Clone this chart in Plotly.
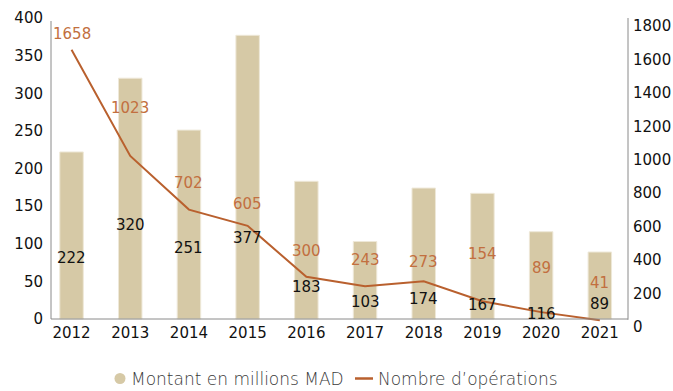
import plotly.graph_objects as go

# Annual series: amounts (bars, left axis) and number of deals (line, right axis)
years = ["2012", "2013", "2014", "2015", "2016", "2017", "2018", "2019", "2020", "2021"]
montant = [222, 320, 251, 377, 183, 103, 174, 167, 116, 89]
operations = [1658, 1023, 702, 605, 300, 243, 273, 154, 89, 41]

# Heights at which the value labels are written (left-axis units / right-axis units)
montant_label_y = [81.5, 125, 94, 107, 43, 22, 26, 18.6, 6.6, 19.5]
operations_label_y = [1750, 1311, 863, 734, 454, 401, 387, 437, 355, 261]

BAR = "#D6C9A6"
LINE = "#B9602E"
LABEL_ORANGE = "#C26F40"
FONT = "DejaVu Sans"
LEGEND_TEXT = "#3A3A3A"

# plot-area geometry in pixels (used to place the hand-drawn legend)
W, H = 673, 391
ML, MR, MT, MB = 51, 45, 18, 64
PW, PH = W - ML - MR, H - MT - MB


def px(x):
    return (x - ML) / PW


def py(y):
    return (H - MB - y) / PH


fig = go.Figure()

fig.add_trace(go.Bar(
    x=years, y=montant, name="Montant en millions MAD",
    marker=dict(color=BAR, line=dict(color="#EEE8D8", width=1)),
    width=0.4, showlegend=False, yaxis="y",
))
fig.add_trace(go.Scatter(
    x=years, y=operations, name="Nombre d\u2019op\u00e9rations",
    mode="lines", line=dict(color=LINE, width=2), yaxis="y2", showlegend=False,
))

# Value labels; category positions given by index so numeric-looking names aren't misread
for i, (v, ly) in enumerate(zip(montant, montant_label_y)):
    fig.add_annotation(
        x=i, y=ly, xref="x", yref="y", text=str(v), showarrow=False,
        font=dict(family=FONT, size=15, color="#111111"),
    )
for i, (v, ly) in enumerate(zip(operations, operations_label_y)):
    fig.add_annotation(
        x=i, y=ly, xref="x", yref="y2", text=str(v), showarrow=False,
        font=dict(family=FONT, size=15, color=LABEL_ORANGE),
    )

axis_grey = "#8A8A8A"
shapes = [
    dict(type="line", xref="paper", yref="y", x0=0, x1=0, y0=0, y1=396,
         line=dict(color=axis_grey, width=1)),
    dict(type="line", xref="paper", yref="y", x0=0, x1=1, y0=0, y1=0,
         line=dict(color=axis_grey, width=1)),
    dict(type="line", xref="paper", yref="y", x0=1, x1=1, y0=-1, y1=401,
         line=dict(color=axis_grey, width=1)),
    # legend swatches
    dict(type="circle", xref="paper", yref="paper",
         x0=px(114.5), x1=px(125.5), y0=py(384), y1=py(373),
         fillcolor=BAR, line=dict(width=0)),
    dict(type="line", xref="paper", yref="paper",
         x0=px(355), x1=px(373), y0=py(378.5), y1=py(378.5),
         line=dict(color=LINE, width=2.5)),
]

# legend labels
fig.add_annotation(x=px(129), y=py(379), xref="paper", yref="paper",
                   xanchor="left", yanchor="middle", showarrow=False,
                   text="Montant en millions MAD",
                   font=dict(family=FONT, size=17, color=LEGEND_TEXT, weight=300))
fig.add_annotation(x=px(375.5), y=py(379), xref="paper", yref="paper",
                   xanchor="left", yanchor="middle", showarrow=False,
                   text="Nombre d\u2019op\u00e9rations",
                   font=dict(family=FONT, size=17, color=LEGEND_TEXT, weight=300))

fig.update_layout(
    width=W, height=H,
    margin=dict(l=ML, r=MR, t=MT, b=MB, autoexpand=False),
    paper_bgcolor="white", plot_bgcolor="white",
    font=dict(family=FONT, size=15, color="#111111"),
    showlegend=False,
    xaxis=dict(type="category", range=[-0.35, 9.48], showline=False,
               showgrid=False, zeroline=False, ticks="", ticklabelstandoff=-5,
               automargin=False, tickfont=dict(size=15, color="#111111")),
    yaxis=dict(range=[-10.63, 400], dtick=50, showline=False, showgrid=False,
               zeroline=False, ticks="", ticklabelstandoff=7, automargin=False,
               tickfont=dict(size=15, color="#111111")),
    yaxis2=dict(range=[0, 1847.8], dtick=200, overlaying="y", side="right",
                showline=False, showgrid=False, zeroline=False, ticks="",
                ticklabelstandoff=4, automargin=False,
                tickfont=dict(size=15, color="#111111")),
    shapes=shapes,
    bargap=0.6,
)

fig.write_html("out.html")
